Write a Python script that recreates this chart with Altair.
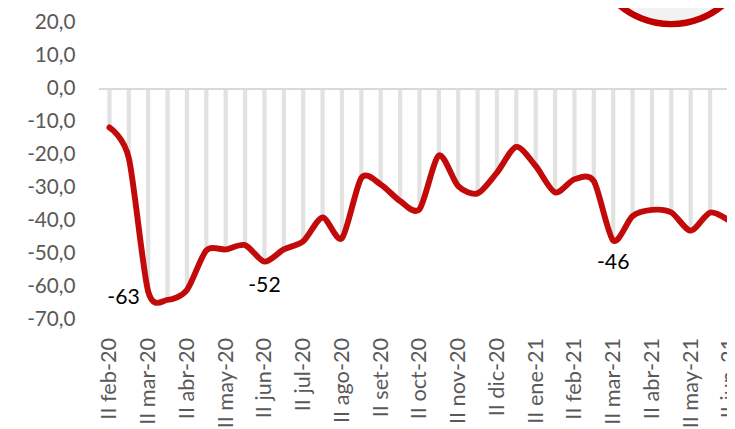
import altair as alt
import pandas as pd

months = ["feb-20","mar-20","abr-20","may-20","jun-20","jul-20","ago-20","set-20","oct-20","nov-20","dic-20","ene-21","feb-21","mar-21","abr-21","may-21","jun-21"]
categories = ["II feb-20"]
for m in months[1:]:
    categories += ["I " + m, "II " + m]
tick_labels = ["II " + m for m in months]
values = [-11.7,-21,-61.5,-64,-61,-49,-48.7,-47.4,-52.4,-48.7,-46.2,-39,-45.3,-27,-29,-34,-36.5,
          -20.2,-29.5,-31.7,-25.4,-17.6,-23.4,-31.4,-27.4,-28,-46,-38.6,-36.7,-37.5,-43,-37.5,-40]

df = pd.DataFrame({"cat": categories, "val": values})
FONT = "Lato"
x = alt.X("cat:N", sort=categories, title=None,
          scale=alt.Scale(range=[0, 648], paddingInner=0.78, paddingOuter=0.39, round=False),
          axis=alt.Axis(values=tick_labels, labelAngle=270, labelFont=FONT, labelFontSize=22,
                        labelColor="#595959", labelPadding=18, ticks=False, domain=False,
                        labelAlign="right", labelBaseline="middle", grid=False, labelOverlap=False))
y_axis = alt.Axis(values=list(range(-70, 30, 10)),
                  labelExpr="replace(replace(format(datum.value,'.1f'),'.',','),'\u2212','-')",
                  labelFont=FONT, labelFontSize=21, labelColor="#595959", labelPadding=25,
                  ticks=False, domain=False, grid=False, labelOverlap=False)
y_scale = alt.Scale(domain=[-70, 23.7], nice=False, zero=False)
y = alt.Y("val:Q", title=None, scale=y_scale, axis=y_axis)

bars = alt.Chart(df).mark_bar(color="#e2e2e2").encode(x=x, y=y, y2=alt.Y2(datum=0))
zero = alt.Chart(df).mark_rule(color="#d9d9d9", strokeWidth=2).encode(
    y=alt.Y(datum=0, title=None, scale=y_scale, axis=y_axis), x=alt.value(0), x2=alt.value(640))
line = alt.Chart(df).mark_line(color="#c00000", strokeWidth=6, interpolate="cardinal", tension=0.2,
                               strokeCap="round", opacity=0.96).encode(x=x, y=y)

circle_df = pd.DataFrame({"cat": ["I may-21"], "val": [43.9]})
circle = alt.Chart(circle_df).mark_point(shape="circle", filled=False, fill="#f2f2f2", fillOpacity=1,
                                         stroke="#c00000", strokeWidth=6.5, opacity=1, size=26250).encode(
    x=x, y=y, xOffset=alt.value(2))

lab1 = pd.DataFrame({"cat": ["II mar-20"], "val": [-63.4], "t": ["-63"]})
lab2 = pd.DataFrame({"cat": ["II jun-20", "II mar-21"], "val": [-59.7, -52.9], "t": ["-52", "-46"]})
t1 = alt.Chart(lab1).mark_text(font=FONT, fontSize=21.5, color="#000000", dx=-25).encode(x=x, y=y, text="t:N")
t2 = alt.Chart(lab2).mark_text(font=FONT, fontSize=21.5, color="#000000").encode(x=x, y=y, text="t:N")

chart = alt.layer(bars, zero, line, circle, t1, t2).properties(
    width=635.7, height=313,
    autosize=alt.AutoSizeParams(type="none"),
    padding={"left": 93, "top": 0, "right": 0, "bottom": 108},
).configure_view(stroke=None)

chart.save("out.html", embed_options={"renderer": "svg", "actions": False})
